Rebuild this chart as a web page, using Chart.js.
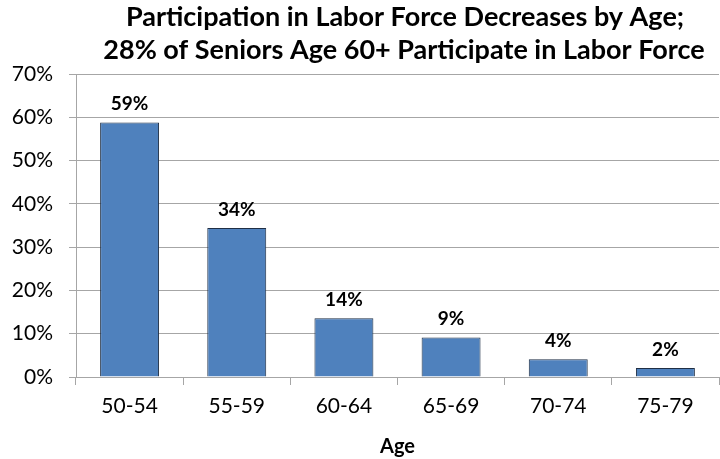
<!DOCTYPE html>
<html>
<head>
<meta charset="utf-8">
<script src="https://cdn.jsdelivr.net/npm/chart.js@4"></script>
<style>
  html, body { margin: 0; padding: 0; background: #fff; }
  #wrap { width: 720px; height: 459px; }
</style>
</head>
<body>
<div id="wrap"><canvas id="myChart" width="720" height="459"></canvas></div>
<script>
// datos del gráfico
const categories = ['50-54', '55-59', '60-64', '65-69', '70-74', '75-79'];
const participation = [58.8, 34.4, 13.6, 9.1, 4.1, 2.1];
const valueLabels = ['59%', '34%', '14%', '9%', '4%', '2%'];
const titleLines = ['Participation in Labor Force Decreases by Age;', '28% of Seniors Age 60+ Participate in Labor Force'];
const yTicks = [0, 10, 20, 30, 40, 50, 60, 70];

const FONT = 'Lato, "Open Sans", sans-serif';

// Etiquetas sobre las barras y título
const labelPlugin = {
    id: 'labelPlugin',
    afterDatasetsDraw(chart) {
        const ctx = chart.ctx;
        const meta = chart.getDatasetMeta(0);
        ctx.save();
        ctx.fillStyle = '#000';
        ctx.font = 'bold 19px ' + FONT;
        ctx.textAlign = 'center';
        ctx.textBaseline = 'bottom';
        meta.data.forEach((bar, i) => {
            ctx.fillText(valueLabels[i], bar.x, bar.y - 9);
        });
        ctx.font = 'bold 27px ' + FONT;
        ctx.textBaseline = 'middle';
        ctx.fillText(titleLines[0], 405, 17);
        ctx.fillText(titleLines[1], 404, 50);
        ctx.restore();
    }
};

var ctx = document.getElementById('myChart').getContext('2d');
var myChart = new Chart(ctx, {
    type: 'bar',
    data: {
        labels: categories,
        datasets: [{
            data: participation,
            backgroundColor: '#4F81BD',
            borderColor: '#1F2F45',
            borderWidth: 1,
            categoryPercentage: 1,
            barPercentage: 0.55
        }]
    },
    options: {
        responsive: false,
        animation: false,
        layout: { padding: { top: 74, right: 1, left: 0, bottom: 0 } },
        plugins: {
            legend: { display: false },
            title: { display: false },
            tooltip: { enabled: false }
        },
        scales: {
            y: {
                min: 0,
                max: 70,
                afterFit: (s) => { s.width = 76; },
                afterBuildTicks: (s) => { s.ticks = yTicks.map(v => ({ value: v })); },
                ticks: {
                    color: '#000',
                    font: { family: FONT, size: 21 },
                    padding: 16,
                    callback: (v) => v + '%'
                },
                grid: { color: '#a6a6a6', tickLength: 7, lineWidth: 1 },
                border: { color: '#a6a6a6' }
            },
            x: {
                afterFit: (s) => { s.height = 82; },
                ticks: {
                    color: '#000',
                    font: { family: FONT, size: 21 },
                    padding: 9
                },
                grid: { drawOnChartArea: false, color: '#a6a6a6', tickLength: 8, offset: true },
                border: { color: '#a6a6a6' },
                title: {
                    display: true,
                    text: 'Age',
                    color: '#000',
                    font: { family: FONT, size: 20, weight: 'bold' },
                    padding: { top: 4, bottom: 0 }
                }
            }
        }
    },
    plugins: [labelPlugin]
});
</script>
</body>
</html>
